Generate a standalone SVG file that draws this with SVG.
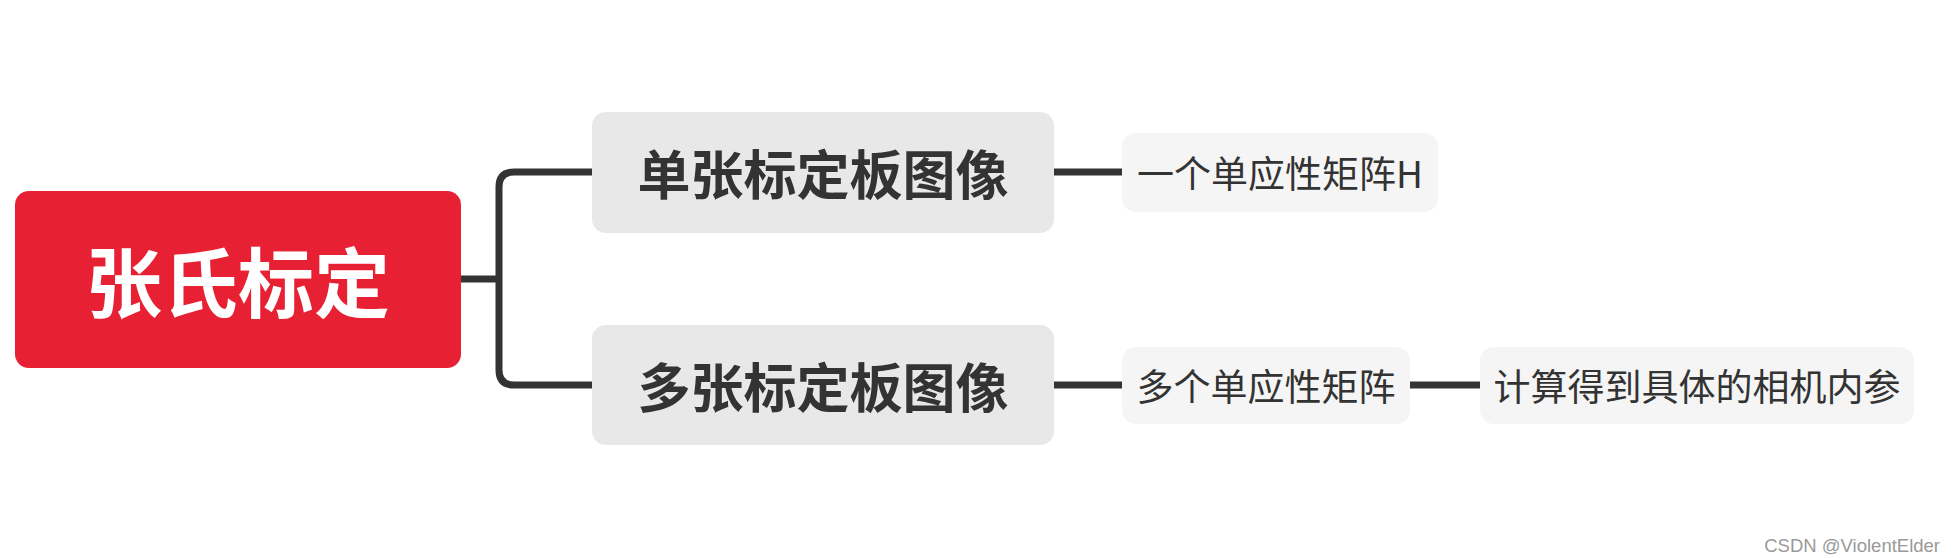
<svg xmlns="http://www.w3.org/2000/svg" width="1955" height="558" viewBox="0 0 1955 558">
<style>
.t{font-family:"Noto Sans CJK SC","Liberation Sans",sans-serif;text-anchor:middle;dominant-baseline:central}
.b{fill:#e8e8e8}
.l{fill:#f5f5f5}
.c{stroke:#333;stroke-width:7;fill:none}
</style>
<rect width="1955" height="558" fill="#fff"/>
<g id="connectors">
<path class="c" d="M461 279 H499 M592 172 H514 Q499 172 499 187 V370 Q499 385 514 385 H592"/>
<path class="c" d="M1054 172 H1122 M1054 385 H1122 M1410 385 H1480"/>
</g>
<g id="root"><rect x="15" y="191" width="446" height="177" rx="14" fill="#e82033"/><text class="t" x="238" y="279" font-size="76" font-weight="bold" fill="#fff">张氏标定</text></g>
<g id="b1"><rect class="b" x="592" y="112" width="462" height="121" rx="14"/><text class="t" x="823" y="172" font-size="53" font-weight="bold" fill="#333">单张标定板图像</text></g>
<g id="b2"><rect class="b" x="592" y="325" width="462" height="120" rx="14"/><text class="t" x="823" y="385" font-size="53" font-weight="bold" fill="#333">多张标定板图像</text></g>
<g id="l1"><rect class="l" x="1122" y="133" width="316" height="79" rx="14"/><text class="t" x="1280" y="172" font-size="37" fill="#333">一个单应性矩阵H</text></g>
<g id="l2"><rect class="l" x="1122" y="347" width="288" height="77" rx="14"/><text class="t" x="1266" y="385" font-size="37" fill="#333">多个单应性矩阵</text></g>
<g id="l3"><rect class="l" x="1480" y="347" width="434" height="77" rx="14"/><text class="t" x="1697" y="385" font-size="37" fill="#333">计算得到具体的相机内参</text></g>
<text x="1940" y="552" font-family="Liberation Sans,sans-serif" font-size="18.5" fill="#999" text-anchor="end">CSDN @ViolentElder</text>
</svg>
